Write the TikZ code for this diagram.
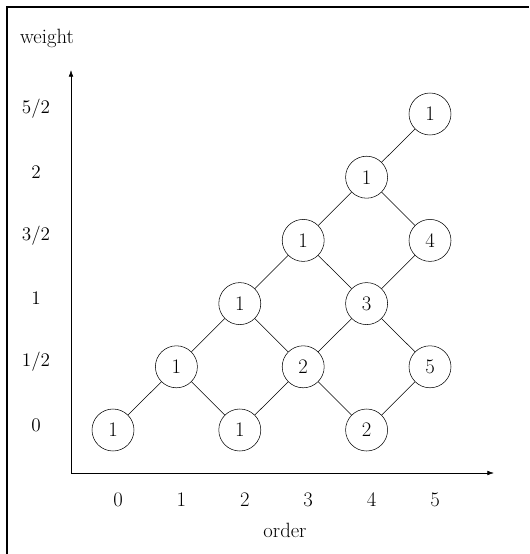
\documentclass[tikz,border=0pt]{standalone}
\usetikzlibrary{arrows.meta}
\begin{document}
\begin{tikzpicture}[x=0.75pt,y=-0.75pt,
  vnode/.style={draw,circle,minimum size=31.5pt,inner sep=0pt,font=\fontsize{15.5}{18}\selectfont},
  lbl/.style={font=\fontsize{15.5}{18}\selectfont},
  axis/.style={-{Latex[length=5pt,width=3.5pt]},line width=0.5pt}]
\useasboundingbox (0,0) rectangle (529,554);
\draw[line width=0.8pt] (7,554) -- (7,7) -- (529,7);
\coordinate (O) at (71,473);
\coordinate (Ytop) at (71,70);
\coordinate (Xend) at (494,473);
\draw[axis] (O) -- (Ytop);
\draw[axis] (O) -- (Xend);
\node[lbl] (wt) at (47,38) {weight};
\node[lbl] (ord) at (285,530) {order};
\foreach \i in {0,...,5}{
  \node[lbl] (xl\i) at ({118+63.4*\i},500) {\i};
}
\foreach \j/\t in {0/0,1/1\slash2,2/1,3/3\slash2,4/2,5/5\slash2}{
  \node[lbl] (yl\j) at (36,{425-63.2*\j}) {$\t$};
}
\newcommand{\vpos}[2]{({113+63.4*#1},{430-63.2*#2})}
\node[vnode] (a00) at \vpos{0}{0} {1};
\node[vnode] (a11) at \vpos{1}{1} {1};
\node[vnode] (a22) at \vpos{2}{2} {1};
\node[vnode] (a33) at \vpos{3}{3} {1};
\node[vnode] (a44) at \vpos{4}{4} {1};
\node[vnode] (a55) at \vpos{5}{5} {1};
\node[vnode] (a20) at \vpos{2}{0} {1};
\node[vnode] (a31) at \vpos{3}{1} {2};
\node[vnode] (a42) at \vpos{4}{2} {3};
\node[vnode] (a53) at \vpos{5}{3} {4};
\node[vnode] (a40) at \vpos{4}{0} {2};
\node[vnode] (a51) at \vpos{5}{1} {5};
\draw (a00) -- (a11) -- (a22) -- (a33) -- (a44) -- (a55);
\draw (a11) -- (a20) -- (a31) -- (a42) -- (a53);
\draw (a22) -- (a31) -- (a40) -- (a51) -- (a42) -- (a33);
\draw (a44) -- (a53);
\end{tikzpicture}
\end{document}
